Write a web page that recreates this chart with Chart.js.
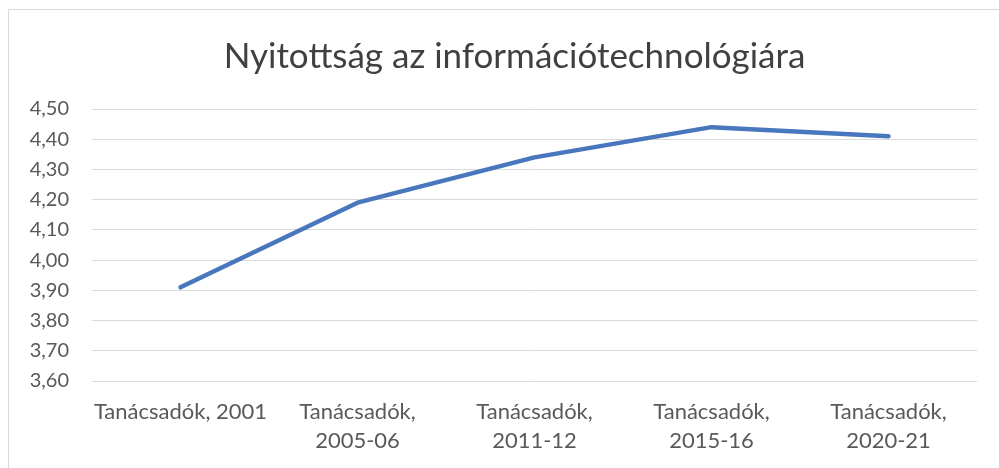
<!DOCTYPE html>
<html>
<head>
<meta charset="utf-8">
<script src="https://cdn.jsdelivr.net/npm/chart.js@4.4.1/dist/chart.umd.min.js"></script>
<style>
  body { margin: 0; background: #fff; }
  #wrap { position: relative; width: 999px; height: 468px; }
  #frame { position: absolute; left: 8px; top: 9px; right: 0; bottom: 0;
           border-top: 1px solid #d9d9d9; border-left: 1px solid #d9d9d9; }
  canvas { position: absolute; left: 0; top: 0; }
</style>
</head>
<body>
<div id="wrap">
  <div id="frame"></div>
  <canvas id="myChart" width="999" height="468"></canvas>
</div>
<script>
const chartTitle = "Nyitottság az információtechnológiára";
const categories = [
  "Tanácsadók, 2001",
  ["Tanácsadók,", "2005-06"],
  ["Tanácsadók,", "2011-12"],
  ["Tanácsadók,", "2015-16"],
  ["Tanácsadók,", "2020-21"],
];
const values = [3.91, 4.19, 4.34, 4.44, 4.41];
const yMin = 3.6;
const yMax = 4.5;
const yStep = 0.1;

const fontFamily = "Lato, 'Open Sans', sans-serif";
const textColor = "#595959";

// title is centred on the framed box, not on the canvas
const frameTitle = {
  id: "frameTitle",
  afterDraw(chart) {
    const c = chart.ctx;
    c.save();
    c.font = "35px " + fontFamily;
    c.fillStyle = "#404040";
    c.textAlign = "center";
    c.textBaseline = "middle";
    c.fillText(chartTitle, (8 + chart.width + 22) / 2, 57);
    c.restore();
  },
};

const ctx = document.getElementById("myChart");
new Chart(ctx, {
  type: "line",
  data: {
    labels: categories,
    datasets: [
      {
        label: chartTitle,
        data: values,
        borderColor: "#4877bd",
        borderWidth: 4.5,
        borderCapStyle: "round",
        borderJoinStyle: "round",
        pointRadius: 0,
        tension: 0,
      },
    ],
  },
  plugins: [frameTitle],
  options: {
    responsive: false,
    animation: false,
    layout: { padding: { left: 0, right: 22, top: 109, bottom: 0 } },
    plugins: {
      legend: { display: false },
      tooltip: { enabled: false },
      title: { display: false },
    },
    scales: {
      x: {
        offset: true,
        grid: { display: false },
        border: { display: false },
        ticks: {
          color: textColor,
          font: { family: fontFamily, size: 22, lineHeight: 1.32 },
          padding: 8,
          maxRotation: 0,
          autoSkip: false,
        },
        afterFit: (scale) => { scale.height = 87; },
      },
      y: {
        min: yMin,
        max: yMax,
        grid: { color: "#d9d9d9", lineWidth: 1, drawTicks: false },
        border: { display: false },
        ticks: {
          stepSize: yStep,
          color: textColor,
          font: { family: fontFamily, size: 20 },
          padding: 23,
          callback: (v) => v.toFixed(2).replace(".", ","),
        },
        afterFit: (scale) => { scale.width = 92; },
      },
    },
  },
});
</script>
</body>
</html>
